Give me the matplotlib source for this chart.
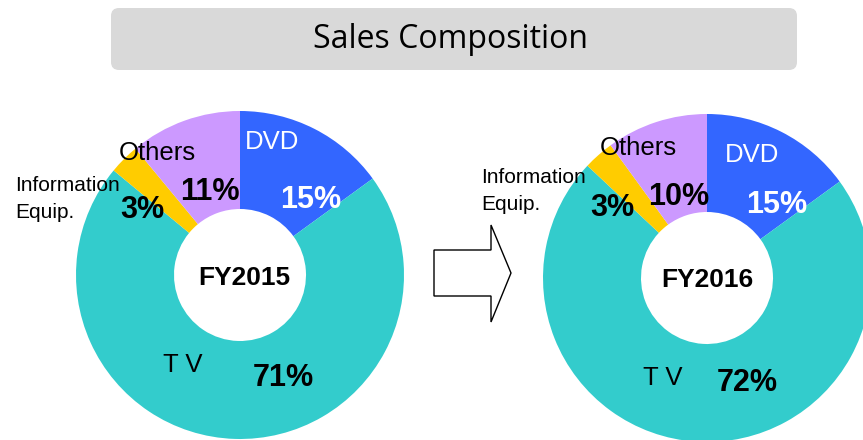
import matplotlib.pyplot as plt
from matplotlib.patches import FancyBboxPatch, Polygon

plt.rcParams['font.family'] = ['Liberation Sans', 'DejaVu Sans']

H = 440  # image height, used to flip y so positions read like pixel rows

segments = ["DVD", "T V", "Information\nEquip.", "Others"]
colors = ["#3366FF", "#33CCCC", "#FFCC00", "#CC99FF"]
share_2015 = [15, 71, 3, 11]
share_2016 = [15, 72, 3, 10]
years = ["FY2015", "FY2016"]

fig = plt.figure(figsize=(8.63, 4.40), dpi=100)
ax = fig.add_axes([0, 0, 1, 1])

R = 164
HOLE = 66
PCT = 22
LBL = 18.5


def donut(values, cx, cy):
    ax.pie(values, colors=colors, startangle=90, counterclock=False,
           center=(cx, H - cy), radius=R,
           wedgeprops=dict(width=R - HOLE, linewidth=0))


def txt(x, y, s, size=LBL, weight="normal", color="black", ha="center", **kw):
    ax.text(x, H - y, s, fontsize=size, fontweight=weight, color=color,
            ha=ha, va="center", **kw)


donut(share_2015, 240, 275)
donut(share_2016, 707, 278)

# left chart labels
txt(245, 142, segments[0], color="white", ha="left")
txt(311, 200, f"{share_2015[0]}%", size=PCT, weight="bold", color="white")
txt(119, 153, segments[3], ha="left")
txt(210, 192, f"{share_2015[3]}%", size=PCT, weight="bold")
txt(15, 199, segments[2], size=15, ha="left", linespacing=1.5)
txt(142, 210, f"{share_2015[2]}%", size=PCT, weight="bold")
txt(244, 278, years[0], size=19, weight="bold")
txt(183, 365, segments[1])
txt(283, 378, f"{share_2015[1]}%", size=PCT, weight="bold")

# right chart labels
txt(725, 155, segments[0], color="white", ha="left")
txt(777, 205, f"{share_2016[0]}%", size=PCT, weight="bold", color="white")
txt(600, 148, segments[3], ha="left")
txt(679, 197, f"{share_2016[3]}%", size=PCT, weight="bold")
txt(481, 191, segments[2], size=15, ha="left", linespacing=1.5)
txt(612, 208, f"{share_2016[2]}%", size=PCT, weight="bold")
txt(707, 280, years[1], size=19, weight="bold")
txt(663, 378, segments[1])
txt(747, 383, f"{share_2016[1]}%", size=PCT, weight="bold")

# block arrow between the two charts
arrow = [(434, 250), (491, 250), (491, 225), (511, 273), (491, 322),
         (491, 296), (434, 296)]
ax.add_patch(Polygon([(x, H - y) for x, y in arrow], closed=True,
                     facecolor="white", edgecolor="black", linewidth=1.0))

# title box
ax.add_patch(FancyBboxPatch((111, H - 70), 686, 62,
                            boxstyle="round,pad=0,rounding_size=8",
                            facecolor="#D9D9D9", edgecolor="none"))
ax.text(450, H - 39, "Sales Composition", fontsize=23, ha="center",
        va="center", family=["Open Sans", "DejaVu Sans"])

ax.set_xlim(0, 863)
ax.set_ylim(0, H)
ax.set_aspect("equal")
ax.axis("off")

fig.savefig("out.png", dpi=100)
